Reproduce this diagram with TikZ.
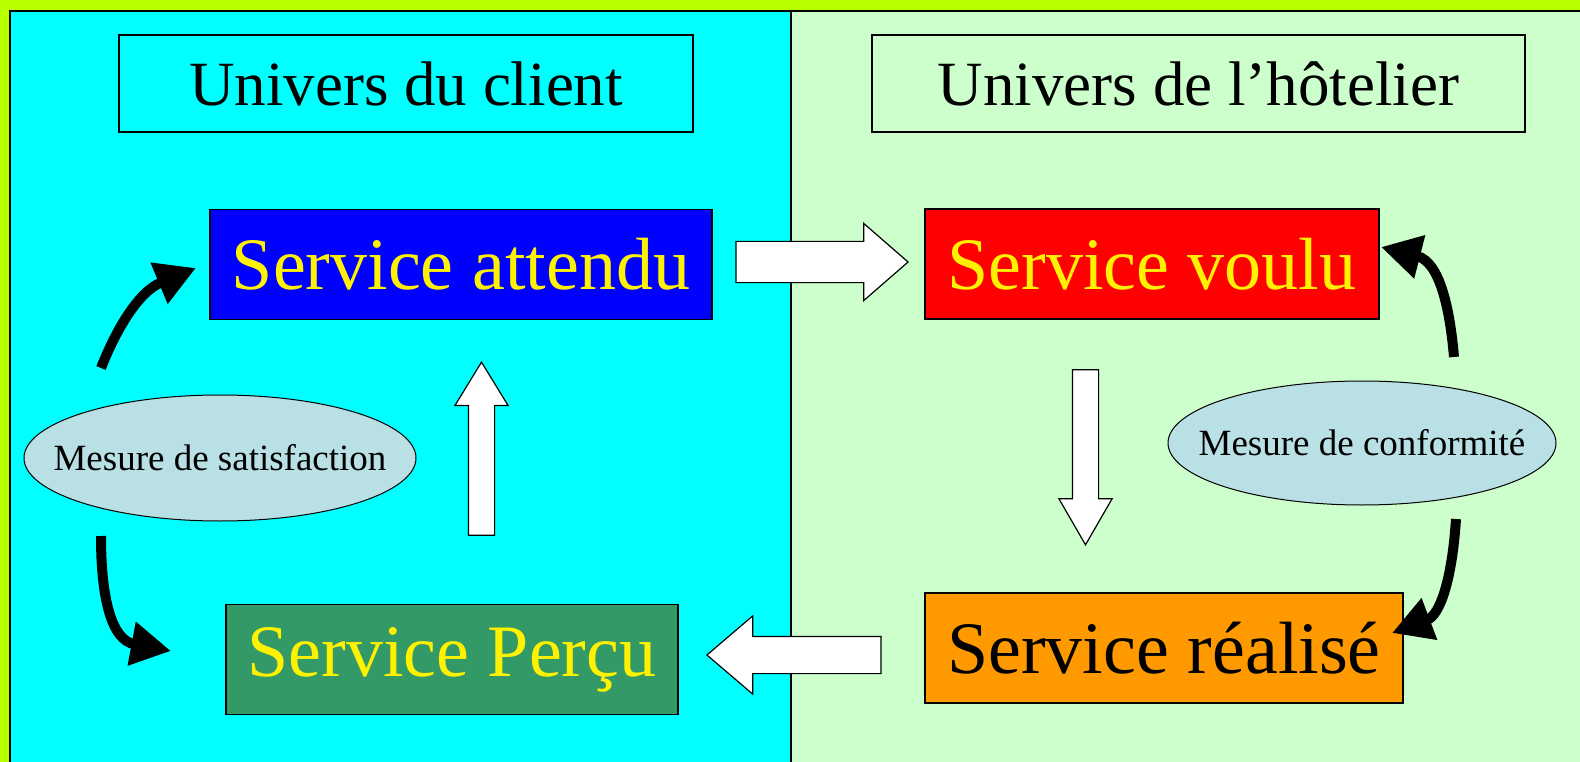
\documentclass[tikz,border=0pt]{standalone}
\usepackage{fontspec}
\setmainfont{Liberation Serif}
\usetikzlibrary{shapes.geometric,shapes.arrows,arrows.meta}

\definecolor{fond}{RGB}{185,255,0}
\definecolor{client}{RGB}{0,255,255}
\definecolor{hotelier}{RGB}{204,255,204}
\definecolor{vert}{RGB}{51,153,102}
\definecolor{orange}{RGB}{255,153,0}
\definecolor{bleupale}{RGB}{185,224,228}

\begin{document}
\begin{tikzpicture}[x=1pt,y=-1pt,
  titre/.style={draw, line width=1.2pt, minimum height=97pt, inner sep=0pt, font=\fontsize{63}{70}\selectfont},
  service/.style={draw, line width=1.2pt, minimum height=110pt, inner sep=0pt, text=yellow, font=\fontsize{74}{80}\selectfont},
  mesure/.style={ellipse, draw, line width=1pt, fill=bleupale, inner sep=0pt, font=\fontsize{37}{40}\selectfont},
  fleche/.style={single arrow, draw, line width=1.2pt, fill=white, single arrow head indent=0pt, anchor=tip},
  boucle/.style={line width=10pt, -{Triangle[length=40pt,width=42pt]}}]
\useasboundingbox (0,0) rectangle (1580,762);
% fond et les deux univers
\fill[fond] (0,0) rectangle (1580,762);
\draw[line width=1.2pt, fill=client] (10,11) rectangle (791,770);
\draw[line width=1.2pt, fill=hotelier] (791,11) rectangle (1590,770);

\node[titre, minimum width=574pt] (uclient) at (406,83.5) {Univers du client};
\node[titre, minimum width=653pt] (uhotel) at (1198.5,83.5) {Univers de l’hôtelier};

\node[service, fill=blue, minimum width=502pt] (attendu) at (461,264.5) {Service attendu};
\node[service, fill=red, minimum width=454pt] (voulu) at (1152,264) {Service voulu};
\node[service, fill=orange, text=black, minimum width=478pt] (realise) at (1164,648) {Service réalisé};
\node[service, fill=vert, minimum width=452pt] (percu) at (452,659.5) {Service Perçu};

\node[mesure, minimum width=392pt, minimum height=126pt] (satisf) at (220,458) {\makebox[0pt]{Mesure de satisfaction}};
\node[mesure, minimum width=388pt, minimum height=124pt] (conform) at (1362,443) {\makebox[0pt]{Mesure de conformité}};

% fleches blanches
\node[fleche, inner sep=20pt, single arrow head extend=18pt, minimum height=172pt, single arrow tip angle=82] (fvoulu) at (909,262) {};
\node[fleche, inner sep=12.5pt, single arrow head extend=13.5pt, minimum height=175pt, single arrow tip angle=60, shape border rotate=270] (frealise) at (1085.5,546) {};
\node[fleche, inner sep=18pt, single arrow head extend=20.5pt, minimum height=174pt, single arrow tip angle=81, shape border rotate=180] (fpercu) at (706,655) {};
\node[fleche, inner sep=12.5pt, single arrow head extend=13.5pt, minimum height=173pt, single arrow tip angle=63, shape border rotate=90] (fattendu) at (481.5,361) {};

% boucles de mesure
\coordinate (s1) at (101,368);
\coordinate (s2) at (196,268);
\coordinate (s3) at (101,536);
\coordinate (s4) at (171,651);
\coordinate (c1) at (1454,357);
\coordinate (c2) at (1381,247);
\coordinate (c3) at (1456,519);
\coordinate (c4) at (1392,633);
\draw[boucle] (s1) .. controls (116,330) and (138,292) .. (s2);
\draw[boucle] (s3) .. controls (101,600) and (112,640) .. (s4);
\draw[boucle] (c1) .. controls (1450,310) and (1440,262) .. (c2);
\draw[boucle] (c3) .. controls (1452,580) and (1440,615) .. (c4);
\end{tikzpicture}
\end{document}
